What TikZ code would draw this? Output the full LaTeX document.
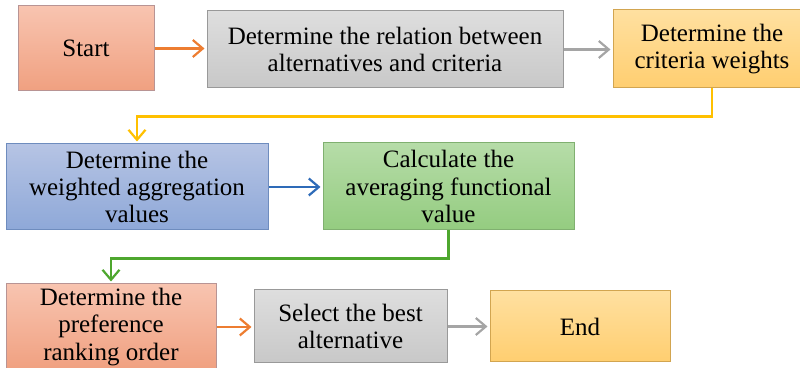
\documentclass[tikz,border=0pt]{standalone}
\usepackage{fontspec}
\setmainfont{Liberation Serif}
\usetikzlibrary{arrows.meta}

\definecolor{lineorange}{HTML}{ED7D31}
\definecolor{linegray}{HTML}{A5A5A5}
\definecolor{lineyellow}{HTML}{FFC000}
\definecolor{lineblue}{HTML}{2E6BB8}
\definecolor{linegreen}{HTML}{4EA72E}

\tikzset{
	stepbox/.style={draw, line width=0.5pt, align=center, inner sep=0pt,
		font=\fontsize{12.5}{13.6}\selectfont},
	redbox/.style={stepbox, draw=red!20!gray!70, top color={rgb,255:red,248;green,196;blue,176}, bottom color={rgb,255:red,240;green,160;blue,128}},
	graybox/.style={stepbox, draw=gray!80, top color={rgb,255:red,222;green,222;blue,222}, bottom color={rgb,255:red,200;green,200;blue,200}},
	yellowbox/.style={stepbox, draw={rgb,255:red,210;green,165;blue,80}, top color={rgb,255:red,255;green,224;blue,160}, bottom color={rgb,255:red,255;green,206;blue,112}},
	bluebox/.style={stepbox, draw={rgb,255:red,110;green,140;blue,190}, top color={rgb,255:red,182;green,196;blue,228}, bottom color={rgb,255:red,142;green,168;blue,216}},
	greenbox/.style={stepbox, draw={rgb,255:red,128;green,176;blue,112}, top color={rgb,255:red,182;green,220;blue,168}, bottom color={rgb,255:red,148;green,204;blue,128}},
	flow/.style={line width=1.1pt, -{Straight Barb[length=5pt,width=8.5pt,line width=1.1pt]}, shorten >=1pt}
}

\begin{document}
\begin{tikzpicture}[x=0.5pt, y=-0.5pt]
	\useasboundingbox (0,0) rectangle (800,368);

	% first row
	\node[redbox, minimum width=68pt, minimum height=42.5pt] (start) at (86,48.5) {Start};
	\node[graybox, minimum width=178pt, minimum height=38.5pt] (relation) at (385,49.5)
		{Determine the relation between\\alternatives and criteria};
	\node[yellowbox, minimum width=99pt, minimum height=39pt] (weights) at (712,49)
		{Determine the\\criteria weights};

	% second row
	\node[bluebox, minimum width=131pt, minimum height=43pt] (aggregation) at (137,187)
		{Determine the\\weighted aggregation\\values};
	\node[greenbox, minimum width=125.5pt, minimum height=43.5pt] (functional) at (448.5,186.5)
		{Calculate the\\averaging functional\\value};

	% third row
	\node[redbox, minimum width=105pt, minimum height=43pt] (ranking) at (111,327)
		{Determine the\\preference\\ranking order};
	\node[graybox, minimum width=96.5pt, minimum height=36.5pt] (best) at (350.5,326.5)
		{Select the best\\alternative};
	\node[yellowbox, minimum width=90pt, minimum height=35.5pt] (finish) at (580,326.5) {End};

	% connectors
	\draw[flow, lineorange] (start.east) -- (start.east -| relation.west);
	\draw[flow, linegray] (relation.east) -- (relation.east -| weights.west);
	\draw[flow, lineyellow] (weights.south) -- ++(0,28) -| (aggregation.north);
	\draw[flow, lineblue] (aggregation.east) -- (aggregation.east -| functional.west);
	\draw[flow, linegreen] (functional.south) -- ++(0,28) -| (ranking.north);
	\draw[flow, lineorange] (ranking.east) -- (ranking.east -| best.west);
	\draw[flow, linegray] (best.east) -- (best.east -| finish.west);
\end{tikzpicture}
\end{document}
